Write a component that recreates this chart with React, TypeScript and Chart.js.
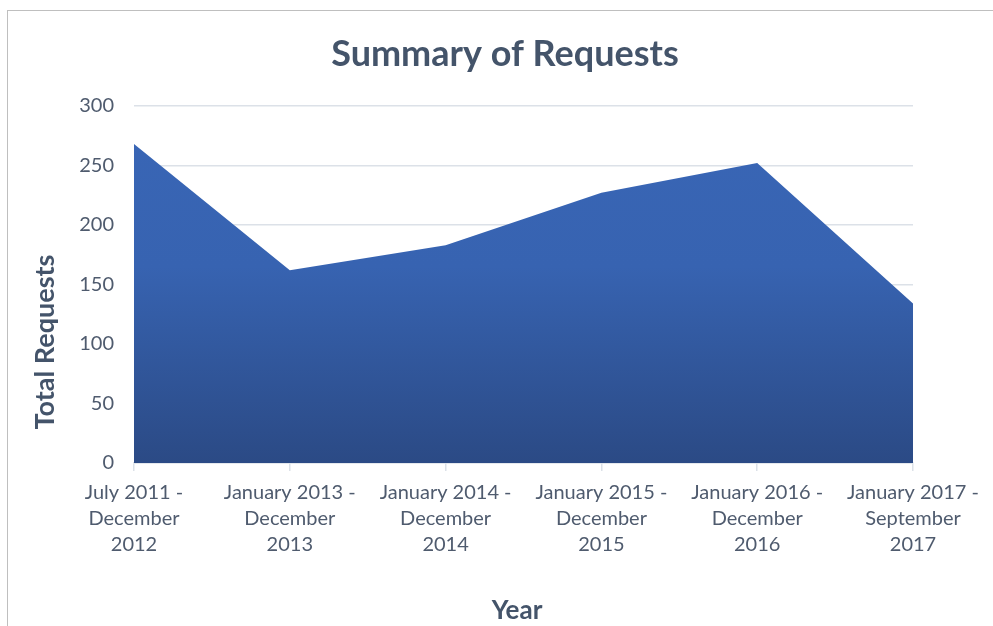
import React, { useEffect, useRef } from "react";
import { Chart, registerables } from "chart.js";

Chart.register(...registerables);

const TITLE = "Summary of Requests";
const Y_TITLE = "Total Requests";
const X_TITLE = "Year";

const categories: string[][] = [
  ["July 2011 -", "December", "2012"],
  ["January 2013 -", "December", "2013"],
  ["January 2014 -", "December", "2014"],
  ["January 2015 -", "December", "2015"],
  ["January 2016 -", "December", "2016"],
  ["January 2017 -", "September", "2017"],
];

const totalRequests = [268, 162, 183, 227, 252, 134];

const yTicks = [0, 50, 100, 150, 200, 250, 300];

const TEXT_COLOR = "#44546a";
const TICK_COLOR = "#4f5b6e";
const GRID_COLOR = "#dce1e8";
const FONT = "Lato";

const textPlugin = {
  id: "customTexts",
  afterDraw(chart: any) {
    const ctx = chart.ctx as CanvasRenderingContext2D;
    ctx.save();
    ctx.fillStyle = TEXT_COLOR;
    ctx.textAlign = "center";
    ctx.textBaseline = "alphabetic";
    ctx.font = `bold 36px ${FONT}`;
    ctx.fillText(TITLE, 505, 66);
    ctx.font = `bold 26px ${FONT}`;
    ctx.fillText(X_TITLE, 517, 619);
    ctx.font = `bold 27px ${FONT}`;
    ctx.translate(54, 342);
    ctx.rotate(-Math.PI / 2);
    ctx.fillText(Y_TITLE, 0, 0);
    ctx.restore();
  },
};

export default function App() {
  const ref = useRef<HTMLCanvasElement | null>(null);

  useEffect(() => {
    if (!ref.current) return;
    const chart = new Chart(ref.current, {
      type: "line",
      data: {
        labels: categories,
        datasets: [
          {
            data: totalRequests,
            fill: "origin",
            borderWidth: 0,
            borderColor: "rgba(0,0,0,0)",
            pointRadius: 0,
            tension: 0,
            backgroundColor: (c: any) => {
              const a = c.chart.chartArea;
              if (!a) return "#3864b3";
              const g = c.chart.ctx.createLinearGradient(0, a.top, 0, a.bottom);
              g.addColorStop(0, "#3966b6");
              g.addColorStop(0.45, "#3763b1");
              g.addColorStop(1, "#2b4a85");
              return g;
            },
          },
        ],
      },
      options: {
        animation: false,
        responsive: false,
        devicePixelRatio: 1,
        layout: { padding: { top: 106, right: 80, left: 0, bottom: 0 } },
        plugins: {
          legend: { display: false },
          tooltip: { enabled: false },
          title: { display: false },
        },
        scales: {
          x: {
            offset: false,
            grid: {
              drawOnChartArea: false,
              drawTicks: true,
              tickLength: 8,
              color: GRID_COLOR,
              lineWidth: 1.5,
            },
            border: { display: true, color: GRID_COLOR, width: 1.5 },
            ticks: {
              color: TICK_COLOR,
              font: { family: FONT, size: 20, lineHeight: 1.32 },
              padding: 8,
              maxRotation: 0,
              minRotation: 0,
              autoSkip: false,
            },
            afterFit: (s: any) => {
              s.height = 163;
            },
          },
          y: {
            min: 0,
            max: 300,
            afterBuildTicks: (s: any) => {
              s.ticks = yTicks.map((v) => ({ value: v }));
            },
            grid: { drawTicks: false, color: GRID_COLOR, lineWidth: 1.5 },
            border: { display: false },
            ticks: {
              color: TICK_COLOR,
              font: { family: FONT, size: 20 },
              padding: 20,
            },
            afterFit: (s: any) => {
              s.width = 134;
            },
          },
        },
      },
      plugins: [textPlugin],
    });
    return () => chart.destroy();
  }, []);

  return (
    <div style={{ position: "fixed", left: 0, top: 0, width: 993, height: 626, background: "#fff", overflow: "hidden" }}>
      <div
        style={{
          position: "absolute",
          left: 7,
          top: 10,
          width: 1100,
          height: 800,
          border: "1px solid #bfbfbf",
          boxSizing: "border-box",
        }}
      />
      <canvas ref={ref} width={993} height={626} style={{ position: "absolute", left: 0, top: 0, width: 993, height: 626 }} />
    </div>
  );
}
